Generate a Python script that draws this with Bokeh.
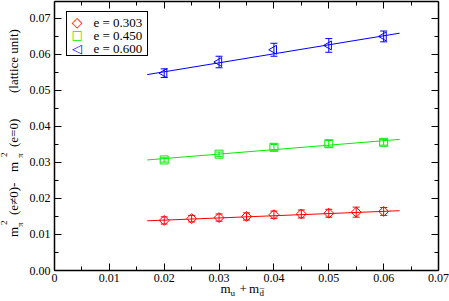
from math import pi
from bokeh.plotting import figure
from bokeh.layouts import column, row
from bokeh.models import (Range1d, LinearAxis, FixedTicker, ColumnDataSource,
                          Label, Div, Legend, LegendItem)
from bokeh.embed import file_html
from bokeh.resources import INLINE

# ---------------- data ----------------
x_red = [0.020, 0.025, 0.030, 0.035, 0.040, 0.045, 0.050, 0.055, 0.060]
y_red = [0.0139, 0.0144, 0.0147, 0.0150, 0.0155, 0.0157, 0.0159, 0.0162, 0.0164]
err_red = [0.0010, 0.0009, 0.0010, 0.0010, 0.0010, 0.0011, 0.0011, 0.0014, 0.0011]

x_green = [0.02, 0.03, 0.04, 0.05, 0.06]
y_green = [0.0307, 0.0323, 0.0342, 0.0352, 0.0356]
err_green = [0.0006, 0.0006, 0.0008, 0.0009, 0.0008]

x_blue = [0.02, 0.03, 0.04, 0.05, 0.06]
y_blue = [0.0548, 0.0579, 0.0613, 0.0625, 0.0650]
err_blue = [0.0012, 0.0016, 0.0018, 0.0019, 0.0015]

fit_x = [0.0169, 0.0629]
fit_red = [0.0138, 0.0166]
fit_green = [0.0307, 0.0364]
fit_blue = [0.0544, 0.0659]

series_labels = ["e = 0.303", "e = 0.450", "e = 0.600"]
legend_symbols = ["\u25C7", "\u25A1", "\u25C1"]

x_ticks = [0.0, 0.01, 0.02, 0.03, 0.04, 0.05, 0.06, 0.07]
x_tick_labels = ["0", "0.01", "0.02", "0.03", "0.04", "0.05", "0.06", "0.07"]
y_ticks = [0.0, 0.01, 0.02, 0.03, 0.04, 0.05, 0.06, 0.07]
y_tick_labels = ["0.00", "0.01", "0.02", "0.03", "0.04", "0.05", "0.06", "0.07"]
x_minor = [0.005, 0.015, 0.025, 0.035, 0.045, 0.055, 0.065]
y_minor = [0.005, 0.015, 0.025, 0.035, 0.045, 0.055, 0.065]

FONT = "Liberation Serif, Times New Roman, serif"
FONT_CSS = "'Liberation Serif', 'Times New Roman', serif"
RED, GREEN, BLUE = "#ff0000", "#00ee00", "#0000ff"
COLORS = [RED, GREEN, BLUE]
SYMBOL_SIZES = ["14px", "12px", "13px"]

YDIV_W = 26          # width of the strip holding the y title
FRAME_W, FRAME_H = 384, 269
X0, X1, Y0, Y1 = 0.0, 0.07, 0.0, 0.0747

p = figure(frame_width=FRAME_W, frame_height=FRAME_H,
           output_backend="svg", toolbar_location=None,
           x_range=Range1d(X0, X1), y_range=Range1d(Y0, Y1),
           min_border_left=53 - YDIV_W, min_border_right=12,
           min_border_top=1, min_border_bottom=13)
p.grid.visible = False
p.outline_line_color = None
p.background_fill_color = "white"
p.border_fill_color = "white"

p.add_layout(LinearAxis(), "right")
p.add_layout(LinearAxis(), "above")


def style_axis(ax, ticks, minor, labels, show):
    ax.ticker = FixedTicker(ticks=ticks, minor_ticks=minor)
    if show:
        ax.major_label_overrides = {t: l for t, l in zip(ticks, labels)}
        ax.major_label_text_font = FONT
        ax.major_label_text_font_size = "12px"
        ax.major_label_text_color = "black"
    else:
        ax.major_label_overrides = {t: "" for t in ticks}
        ax.major_label_text_font_size = "0px"
        ax.major_label_standoff = 0
    ax.major_tick_in = 7
    ax.major_tick_out = 0
    ax.minor_tick_in = 4
    ax.minor_tick_out = 0
    ax.axis_line_color = "black"
    ax.axis_line_width = 1.5
    ax.major_tick_line_color = "black"
    ax.minor_tick_line_color = "black"
    ax.major_tick_line_width = 1
    ax.minor_tick_line_width = 1


style_axis(p.below[0], x_ticks, x_minor, x_tick_labels, True)
p.below[0].major_label_standoff = 3
style_axis(p.left[0], y_ticks, y_minor, y_tick_labels, True)
p.left[0].major_label_standoff = 4
style_axis(p.right[0], y_ticks, y_minor, y_tick_labels, False)
style_axis(p.above[0], x_ticks, x_minor, x_tick_labels, False)

# ---------------- fit lines ----------------
p.line(fit_x, fit_red, line_color=RED, line_width=1)
p.line(fit_x, fit_green, line_color=GREEN, line_width=1)
p.line(fit_x, fit_blue, line_color=BLUE, line_width=1)


# ---------------- error bars (segments + caps) + markers ----------------
def series(xs, ys, errs, color, marker, size, angle):
    src = ColumnDataSource(dict(
        x=xs, y=ys,
        upper=[a + b for a, b in zip(ys, errs)],
        lower=[a - b for a, b in zip(ys, errs)]))
    p.segment(x0="x", y0="lower", x1="x", y1="upper", source=src,
              line_color=color, line_width=1)
    p.scatter("x", "upper", source=src, marker="dash", size=7,
              line_color=color, line_width=1)
    p.scatter("x", "lower", source=src, marker="dash", size=7,
              line_color=color, line_width=1)
    p.scatter("x", "y", source=src, marker=marker, size=size, angle=angle,
              fill_color=None, line_color=color, line_width=1)


series(x_red, y_red, err_red, RED, "square", 7, pi / 4)
series(x_green, y_green, err_green, GREEN, "square", 8, 0)
series(x_blue, y_blue, err_blue, BLUE, "triangle", 9, pi / 2)

# ---------------- legend: symbols + texts, framed by a transparent Legend box ----------------
LEG_L, LEG_B = 12, 214       # frame pixels from the frame's bottom-left corner
LEG_T = LEG_B + 43
for i, (lab, sym, col, fs) in enumerate(zip(series_labels, legend_symbols,
                                            COLORS, SYMBOL_SIZES)):
    cy = LEG_T - 2 - 6.5 - 13 * i
    p.add_layout(Label(x=X0, y=Y0, x_offset=22.6, y_offset=cy, text=sym,
                       text_font="DejaVu Sans", text_font_size=fs,
                       text_color=col, text_align="center",
                       text_baseline="middle"))
    p.add_layout(Label(x=X0, y=Y0, x_offset=39, y_offset=cy, text=lab,
                       text_font=FONT, text_font_size="13px",
                       text_color="black", text_align="left",
                       text_baseline="middle"))

frame_dummy = p.scatter(x=[], y=[], line_alpha=0, fill_alpha=0)
legend_box = Legend(items=[LegendItem(label=" ", renderers=[frame_dummy])],
                    location=(LEG_L, LEG_B), glyph_width=18, glyph_height=39,
                    label_height=39, label_width=51, label_standoff=7,
                    padding=2, margin=0, spacing=0,
                    border_line_color="black", border_line_width=1,
                    border_line_alpha=1, background_fill_alpha=0,
                    label_text_font_size="1px")
p.add_layout(legend_box)


# ---------------- axis titles as HTML (real sub/superscripts) ----------------
def span(text, left, top, size):
    return (f'<span style="position:absolute;left:{left}px;top:{top}px;'
            f'font-family:{FONT_CSS};font-size:{size}px;line-height:{size}px;'
            f'white-space:nowrap;color:black">{text}</span>')


ASC = 0.8375  # baseline position within a line box of line-height = font size

# y title pieces: (text, start along text from page y=237, page x of baseline, size)
y_pieces = [("m", 0, 18, 13), ("2", 12, 8, 9), ("&pi;", 10, 24, 9),
            ("(e&ne;0)-", 22, 18, 13), ("m", 65, 18, 13),
            ("2", 80, 8, 9), ("&pi;", 79, 24, 9),
            ("(e=0)", 90, 18, 13), ("(lattice unit)", 144, 18, 13)]
inner = "".join(span(t, u, round(bx - ASC * s, 2), s) for t, u, bx, s in y_pieces)
y_html = (f'<div style="position:relative;width:{YDIV_W}px;height:287px">'
          f'<div style="position:absolute;left:0px;top:237px;width:0;height:0;'
          f'transform-origin:0 0;transform:rotate(-90deg)">{inner}</div></div>')
ydiv = Div(text=y_html, width=YDIV_W, height=287, margin=0,
           styles={"overflow": "visible"})

XDIV_TOP = 287
x_pieces = [("m", 220.5, 293, 13), ("u", 230.5, 297, 9), ("+", 239.5, 293, 13),
            ("m", 249, 293, 13), ("d&#773;", 259.5, 297, 9)]
x_inner = "".join(span(t, x, round(b - ASC * s - XDIV_TOP, 2), s) for t, x, b, s in x_pieces)
x_html = f'<div style="position:relative;width:449px;height:14px">{x_inner}</div>'
xdiv = Div(text=x_html, width=449, height=14, margin=0,
           styles={"overflow": "visible"})

layout = column(row(ydiv, p, spacing=0), xdiv, spacing=0)
open("out.html", "w").write(file_html(layout, INLINE))
